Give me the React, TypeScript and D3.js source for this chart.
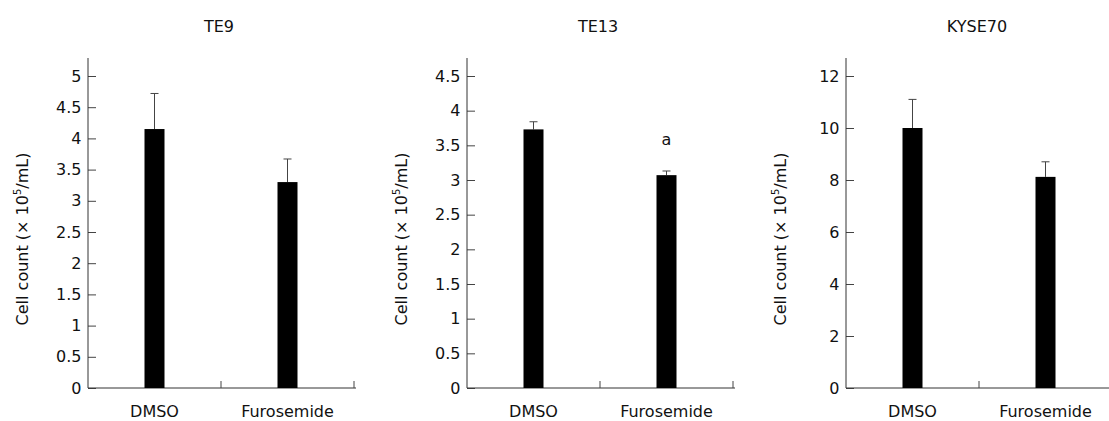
import React, { useRef, useEffect } from "react";
import * as d3 from "d3";

// chart data
const panelTitles = ["TE9", "TE13", "KYSE70"];
const groups = ["DMSO", "Furosemide"];
const te9Means = [4.15, 3.3];
const te9Errors = [0.57, 0.37];
const te13Means = [3.73, 3.07];
const te13Errors = [0.11, 0.06];
const kyse70Means = [10.0, 8.12];
const kyse70Errors = [1.1, 0.58];
const yMaxes = [5, 4.5, 12];
const yStepSizes = [0.5, 0.5, 2];
const te13Marks = ["", "a"];

const App = () => {
  const chartRef = useRef<SVGSVGElement | null>(null);

  useEffect(() => {
    const width = 1109;
    const height = 421;
    const font = "'DejaVu Sans', Verdana, sans-serif";
    const fs = 16;

    const panels = [
      { title: panelTitles[0], means: te9Means, errors: te9Errors, max: yMaxes[0], step: yStepSizes[0], marks: ["", ""] },
      { title: panelTitles[1], means: te13Means, errors: te13Errors, max: yMaxes[1], step: yStepSizes[1], marks: te13Marks },
      { title: panelTitles[2], means: kyse70Means, errors: kyse70Errors, max: yMaxes[2], step: yStepSizes[2], marks: ["", ""] },
    ];

    const svg = d3.select(chartRef.current);
    svg.selectAll("*").remove();
    svg.attr("width", width).attr("height", height);

    const plotW = 266;
    const yBottom = 388;
    const yTop = 76;
    const barW = 20;
    const capW = 8;

    panels.forEach((p, i) => {
      const left = 88 + i * 379;
      const g = svg.append("g").attr("transform", `translate(${left},0)`);

      const y = d3.scaleLinear().domain([0, p.max]).range([yBottom, yTop]);
      const x = d3.scaleBand().domain(groups).range([0, plotW]).paddingInner(0).paddingOuter(0);

      // y axis, ticks pointing inside
      const ticks = d3.range(0, p.max + p.step / 2, p.step);
      const yAxis = d3
        .axisLeft(y)
        .tickValues(ticks)
        .tickSize(-8)
        .tickPadding(6.5)
        .tickFormat((d) => String(+(+d).toFixed(2)));
      const ya = g.append("g").call(yAxis);
      ya.select(".domain").remove();
      ya.selectAll("line").attr("stroke", "#444");
      ya.selectAll("text")
        .attr("font-family", font)
        .attr("font-size", fs)
        .attr("fill", "#111");
      g.append("line")
        .attr("x1", 0).attr("x2", 0)
        .attr("y1", 58).attr("y2", yBottom)
        .attr("stroke", "#333");

      // baseline + category ticks
      g.append("line")
        .attr("x1", 0).attr("x2", plotW + 2)
        .attr("y1", yBottom).attr("y2", yBottom)
        .attr("stroke", "#333");
      g.selectAll(".xtick")
        .data(groups)
        .enter()
        .append("line")
        .attr("x1", (d) => (x(d) as number) + x.bandwidth())
        .attr("x2", (d) => (x(d) as number) + x.bandwidth())
        .attr("y1", yBottom)
        .attr("y2", yBottom - 7)
        .attr("stroke", "#444");

      g.selectAll(".xlabel")
        .data(groups)
        .enter()
        .append("text")
        .attr("x", (d) => (x(d) as number) + x.bandwidth() / 2)
        .attr("y", 417)
        .attr("text-anchor", "middle")
        .attr("font-family", font)
        .attr("font-size", fs)
        .attr("fill", "#111")
        .text((d) => d);

      // error bars
      groups.forEach((grp, j) => {
        const cx = (x(grp) as number) + x.bandwidth() / 2;
        const top = y(p.means[j] + p.errors[j]);
        g.append("line")
          .attr("x1", cx).attr("x2", cx)
          .attr("y1", y(p.means[j])).attr("y2", top)
          .attr("stroke", "#444");
        g.append("line")
          .attr("x1", cx - capW / 2).attr("x2", cx + capW / 2)
          .attr("y1", top).attr("y2", top)
          .attr("stroke", "#444");
        if (p.marks[j]) {
          g.append("text")
            .attr("x", cx)
            .attr("y", top - 26)
            .attr("text-anchor", "middle")
            .attr("font-family", font)
            .attr("font-size", fs)
            .attr("fill", "#111")
            .text(p.marks[j]);
        }
      });

      // bars
      g.selectAll(".bar")
        .data(groups)
        .enter()
        .append("rect")
        .attr("x", (d) => (x(d) as number) + x.bandwidth() / 2 - barW / 2)
        .attr("y", (d, j) => y(p.means[j]))
        .attr("width", barW)
        .attr("height", (d, j) => yBottom - y(p.means[j]))
        .attr("fill", "#000");

      // title
      g.append("text")
        .attr("x", plotW / 2 - 2)
        .attr("y", 31.5)
        .attr("text-anchor", "middle")
        .attr("font-family", font)
        .attr("font-size", fs)
        .attr("fill", "#111")
        .text(p.title);

      // y label
      const lab = g
        .append("text")
        .attr("transform", `translate(-60,239) rotate(-90)`)
        .attr("text-anchor", "middle")
        .attr("font-family", font)
        .attr("font-size", fs)
        .attr("fill", "#111");
      lab.append("tspan").text("Cell count (\u00d7  10");
      lab.append("tspan").attr("font-size", 10).attr("dy", -7).text("5");
      lab.append("tspan").attr("dy", 7).text("/mL)");
    });
  }, []);

  return (
    <svg
      ref={chartRef}
      style={{ position: "absolute", left: 0, top: 0, background: "#fff" }}
    />
  );
};

export default App;
